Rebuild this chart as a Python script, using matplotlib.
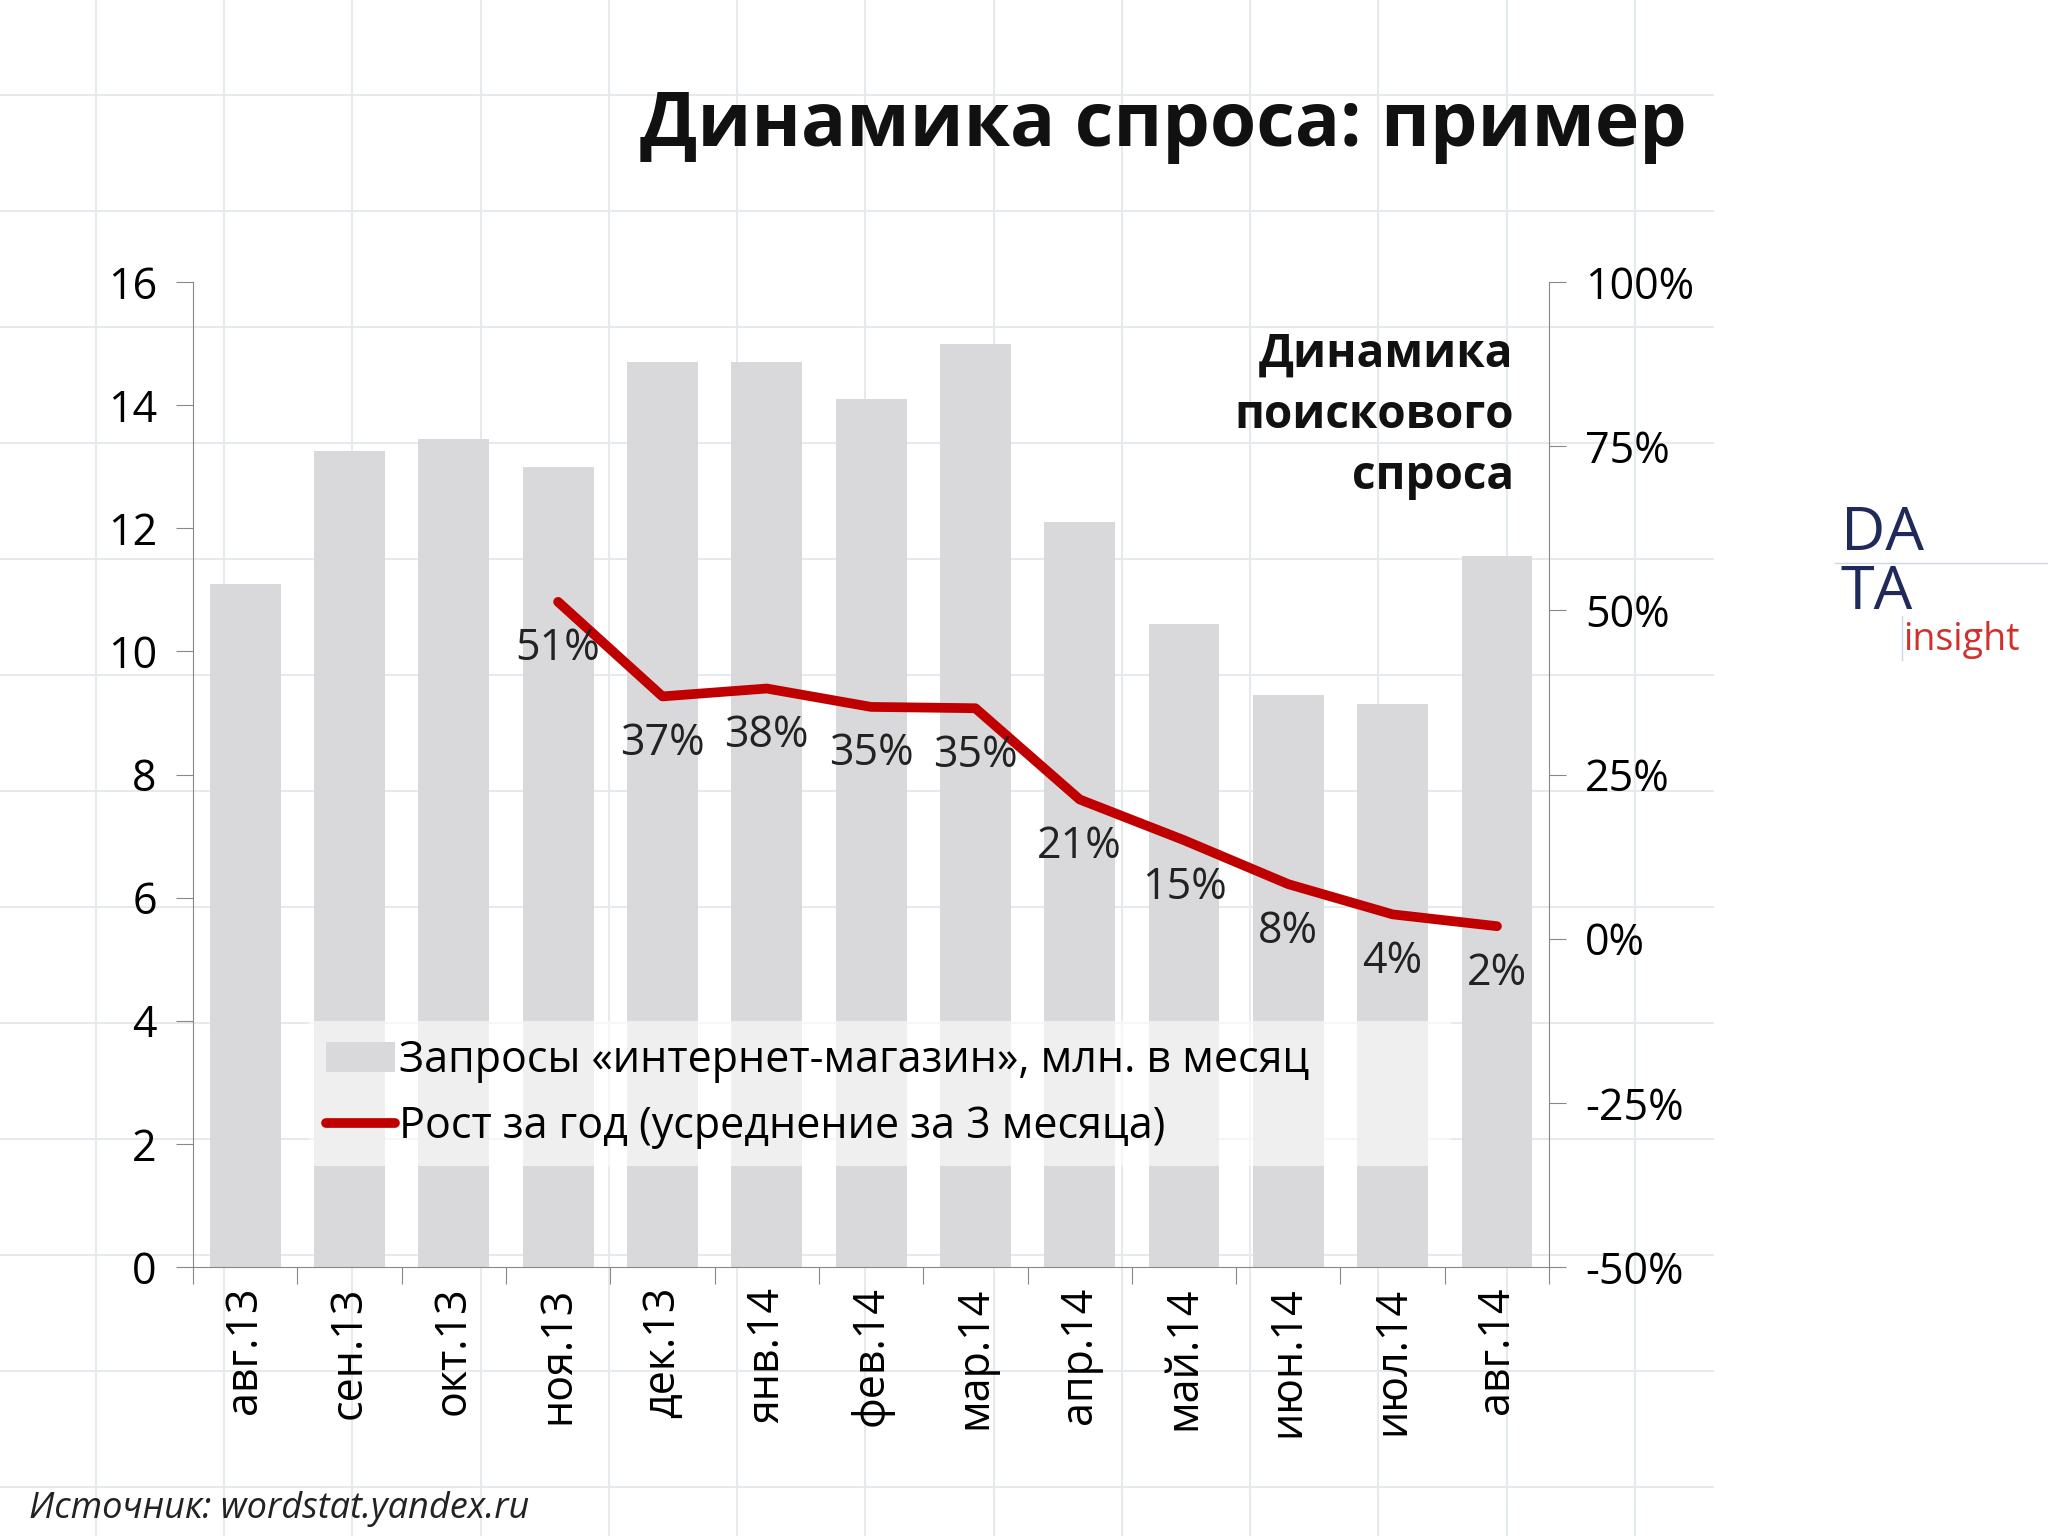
import matplotlib
matplotlib.use("Agg")
import matplotlib.pyplot as plt
import numpy as np

plt.rcParams['font.family'] = ['Open Sans', 'DejaVu Sans']

months = ["авг.13","сен.13","окт.13","ноя.13","дек.13","янв.14","фев.14","мар.14",
          "апр.14","май.14","июн.14","июл.14","авг.14"]
queries = [11.1, 13.25, 13.45, 13.0, 14.7, 14.7, 14.1, 15.0, 12.1, 10.45, 9.3, 9.15, 11.55]
growth_start = 3
growth = [51.3, 36.9, 38.1, 35.3, 35.1, 21.2, 15.0, 8.3, 3.7, 1.9]
growth_labels = ["51%","37%","38%","35%","35%","21%","15%","8%","4%","2%"]

W, H = 1560, 1176
fig = plt.figure(figsize=(20.48, 15.36), dpi=100)

bg = fig.add_axes([0, 0, 1, 1], zorder=-10)
bg.set_xlim(0, W); bg.set_ylim(H, 0); bg.axis('off')
for x in np.arange(73, 1306, 97.7):
    bg.plot([x, x], [0, H], color='#e6e9ee', lw=1.5)
for y in np.arange(73, H, 88.8):
    bg.plot([0, 1305], [y, y], color='#e6e9ee', lw=1.5)

ax = fig.add_axes([147/W, 1-970/H, (1180-147)/W, (970-216)/H])
ax.patch.set_alpha(0)
x = np.arange(len(months))
ax.bar(x, queries, width=0.68, color='#d9d9db', label="Запросы «интернет-магазин», млн. в месяц", zorder=1)
ax.set_ylim(0, 16)
ax.set_xlim(-0.5, len(months)-0.5)
ax.set_yticks(range(0, 17, 2))
ax.set_xticks(np.arange(-0.5, len(months), 1), minor=False)
ax.set_xticklabels([])
ax.set_xticks(x, minor=True)
ax.set_xticklabels(months, minor=True, rotation=90, fontsize=31)
ax.tick_params(axis='x', which='minor', length=0, pad=14)
ax.tick_params(axis='x', which='major', length=12, color='#888888')
ax.tick_params(axis='y', labelsize=31, length=12, color='#888888', pad=14)
for s in ['top', 'right']:
    ax.spines[s].set_visible(False)
for s in ['left', 'bottom']:
    ax.spines[s].set_color('#888888')

ax2 = ax.twinx()
ax2.set_ylim(-50, 100)
ax2.set_yticks(range(-50, 101, 25))
ax2.set_yticklabels([f"{v}%" for v in range(-50, 101, 25)])
ax2.tick_params(axis='y', labelsize=31, length=12, color='#888888', pad=14)
for s in ['top', 'left', 'bottom']:
    ax2.spines[s].set_visible(False)
ax2.spines['right'].set_color('#888888')
gx = x[growth_start:]
ln, = ax2.plot(gx, growth, color='#c00000', lw=7, solid_capstyle='round',
               label="Рост за год (усреднение за 3 месяца)", zorder=3)
for xi, v, t in zip(gx, growth, growth_labels):
    ax2.annotate(t, (xi, v), xytext=(0, -18), textcoords='offset points',
                 ha='center', va='top', fontsize=31, color='#222222')

h1, l1 = ax.get_legend_handles_labels()
leg = ax2.legend(h1 + [ln], l1 + [ln.get_label()], loc='lower left',
                 bbox_to_anchor=(235/W, 1-893/H, (1105-235)/W, (893-770)/H),
                 bbox_transform=fig.transFigure, mode='expand', fontsize=31,
                 frameon=True, fancybox=False, handlelength=1.6, handletextpad=0.1,
                 borderaxespad=0, labelspacing=0.5, borderpad=0.4)
leg.get_frame().set_facecolor('white'); leg.get_frame().set_alpha(0.6)
leg.get_frame().set_edgecolor('none')

fig.text(1285/W, 1-97/H, "Динамика спроса: пример", ha='right', va='center',
         fontsize=54, fontweight='bold', color='#111111')
fig.text(1153/W, 1-318/H, "Динамика\nпоискового\nспроса", ha='right', va='center',
         fontsize=33, fontweight='bold', color='#111111', linespacing=1.4)
fig.text(22/W, 1-1155/H, "Источник: wordstat.yandex.ru", ha='left', va='center',
         fontsize=26, style='italic', color='#222222')
fig.text(1402/W, 1-409/H, "DA", ha='left', va='center', fontsize=44, color='#1f2a5a')
fig.text(1402/W, 1-454/H, "TA", ha='left', va='center', fontsize=44, color='#1f2a5a')
fig.text(1450/W, 1-490/H, "insight", ha='left', va='center', fontsize=27, color='#d0312d')
bg.plot([1398, 1560], [431, 431], color='#cfd6e6', lw=1)
bg.plot([1449, 1449], [472, 505], color='#cfd6e6', lw=1)

fig.savefig("out.png", dpi=100)
